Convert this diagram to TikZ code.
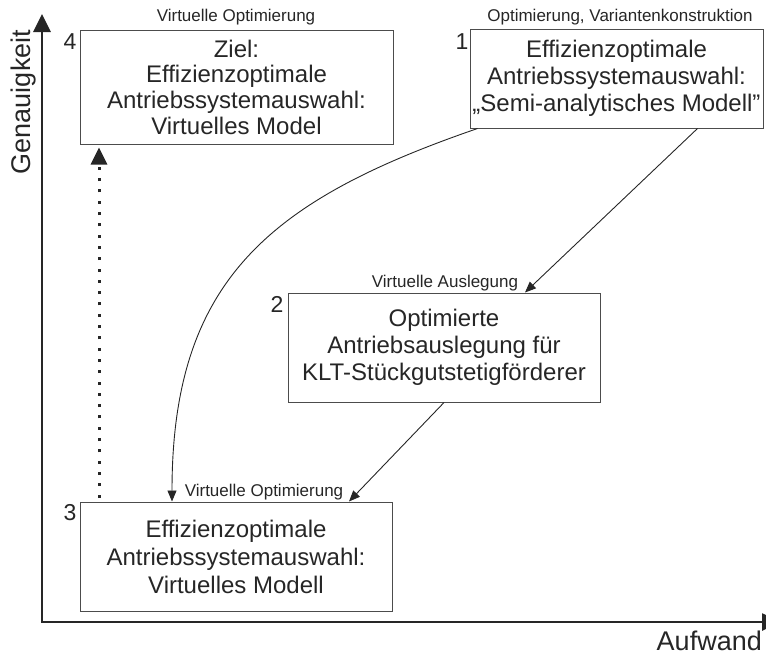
\documentclass[tikz,border=0pt]{standalone}
\usepackage{fontspec}
\setmainfont{Liberation Sans}
\usetikzlibrary{arrows.meta}
\begin{document}
\begin{tikzpicture}[x=1pt,y=-1pt,
 box/.style={draw=black!70, line width=1pt, align=center, inner sep=0pt, font=\fontsize{24}{27}\selectfont, text=black!85},
 lbl/.style={font=\fontsize{17}{19}\selectfont, text=black!85, inner sep=0pt},
 num/.style={font=\fontsize{23}{25}\selectfont, text=black!85, inner sep=0pt},
 conn/.style={line width=0.9pt, draw=black!85, -{Triangle[length=11pt,width=9pt]}},
 axis/.style={line width=2.7pt, draw=black!85, line join=miter}]
\useasboundingbox (0,0) rectangle (766,657);
% boxes
\node[box, minimum width=313pt, minimum height=114pt, font=\fontsize{24}{25.7}\selectfont] (b4) at (236.5,87) {Ziel:\\Effizienzoptimale\\Antriebssystemauswahl:\\Virtuelles Model};
\node[box, minimum width=293pt, minimum height=99pt] (b1) at (616.5,78.5) {Effizienzoptimale\\Antriebssystemauswahl:\\„Semi-analytisches Modell”};
\node[box, minimum width=312pt, minimum height=109pt] (b2) at (444,347.5) {Optimierte\\Antriebsauslegung für\\KLT-Stückgutstetigförderer};
\node[box, minimum width=312pt, minimum height=109pt, font=\fontsize{24}{28}\selectfont] (b3) at (236,556.5) {Effizienzoptimale\\Antriebssystemauswahl:\\Virtuelles Modell};
% labels
\node[lbl] (l4) at (236,17) {Virtuelle Optimierung};
\node[lbl] (l1) at (620,17) {Optimierung, Variantenkonstruktion};
\node[lbl] (l2) at (445,283) {Virtuelle Auslegung};
\node[lbl] (l3) at (264,492) {Virtuelle Optimierung};
\node[num] (n4) at (70,42) {4};
\node[num] (n1) at (462,42) {1};
\node[num] (n2) at (277,304) {2};
\node[num] (n3) at (70,513) {3};
% axes
\coordinate (o) at (42,622);
\coordinate (ytop) at (42,14);
\coordinate (xend) at (780,622);
\draw[axis, {Triangle[length=18pt,width=17pt]}-{Triangle[length=18pt,width=17pt]}] (ytop) -- (o) -- (xend);
\node[rotate=90, font=\fontsize{27}{30}\selectfont, text=black!85, inner sep=0pt] (gy) at (24,102) {Genauigkeit};
\node[anchor=east, font=\fontsize{27}{30}\selectfont, text=black!85, inner sep=0pt] (ax) at (762,641) {Aufwand};
% connectors
\draw[conn] ([xshift=8pt]b1.south west) .. controls (270,200) and (172,280) .. ([xshift=-64pt]b3.north);
\draw[conn] ([xshift=81pt]b1.south) -- ([xshift=81pt]b2.north);
\draw[conn] (b2.south) -- ([xshift=113pt]b3.north);
\draw[line width=3pt, draw=black!85, line cap=butt, dash pattern=on 3pt off 8.3pt, -{Triangle[length=17pt,width=16pt]}] ([xshift=-137pt,yshift=4pt]b3.north) -- ([xshift=-137.5pt,yshift=-3pt]b4.south);
\end{tikzpicture}
\end{document}
